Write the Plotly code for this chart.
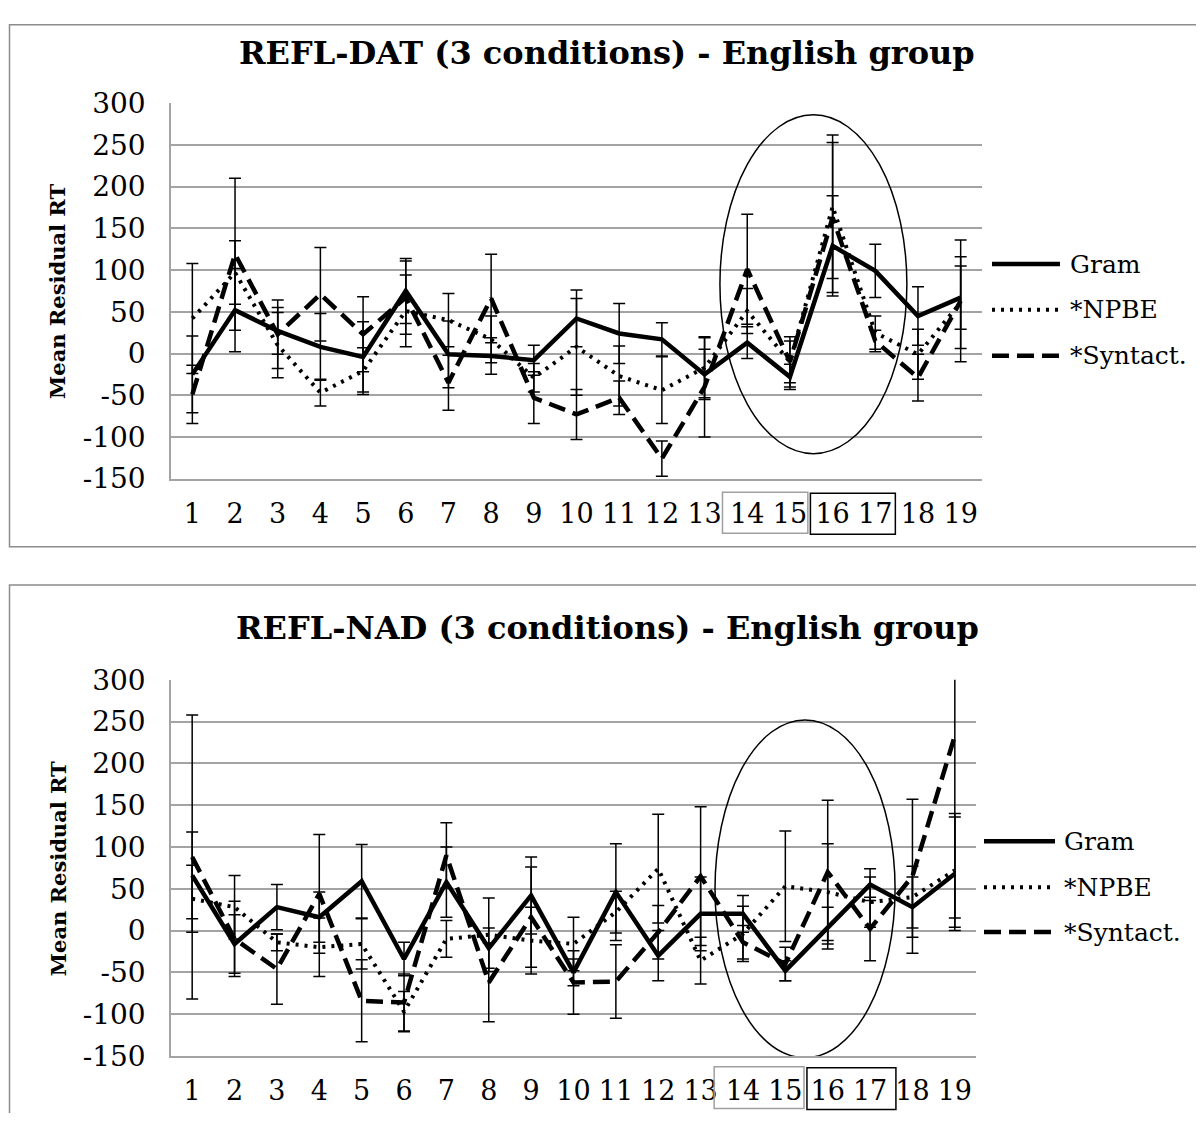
import plotly.graph_objects as go

# figure sits at (8, 8) in the page (default body margin)
OFF = 8
W, H = 1188, 1105
# observed vertical mapping of the rendered page onto the picture: out = VA + VB * page_y
VA, VB = 14.5, 0.973

positions = list(range(1, 20))
tick_labels = [str(i) for i in positions]
y_tickvals = [-150, -100, -50, 0, 50, 100, 150, 200, 250, 300]
y_ticktext = ["-150", "-100", "-50", "0", "50", "100", "150", "200", "250", "300"]
series_names = ["Gram", "*NPBE", "*Syntact."]

# REFL-DAT (top chart)
gram_dat = [-25, 52, 27, 8, -4, 75, -1, -3, -8, 42, 24, 17, -25, 13, -28, 129, 99, 45, 67]
gram_dat_err = [46, 50, 28, 40, 42, 39, 40, 22, 18, 34, 36, 20, 30, 19, 15, 60, 32, 35, 38]
npbe_dat = [42, 97, 10, -47, -21, 51, 40, 17, -29, 8, -27, -44, -17, 51, -10, 176, 25, -1, 61]
npbe_dat_err = [66, 38, 39, 16, 28, 43, 32, 28, 17, 58, 36, 40, 36, 27, 25, 86, 20, 30, 55]
syn_dat = [-49, 119, 23, 71, 23, 67, -35, 66, -53, -73, -53, -126, -40, 101, -10, 163, 15, -29, 63]
syn_dat_err = [35, 91, 41, 56, 45, 44, 33, 53, 31, 30, 20, 21, 60, 66, 30, 90, 13, 28, 73]

# REFL-NAD (bottom chart)
gram_nad = [66, -16, 28, 16, 59, -34, 58, -21, 42, -50, 46, -30, 20, 20, -48, 3, 55, 28, 68]
gram_nad_err = [52, 35, 27, 30, 44, 20, 42, 24, 46, 16, 58, 30, 44, 22, 12, 25, 19, 36, 68]
npbe_nad = [38, 28, -14, -20, -16, -97, -10, -5, -12, -16, 22, 74, -36, -4, 53, 46, 34, 40, 72]
npbe_nad_err = [40, 38, 10, 35, 30, 24, 22, 44, 40, 32, 25, 65, 28, 33, 66, 58, 30, 37, 68]
syn_nad = [88, -10, -46, 44, -84, -86, 90, -62, 16, -62, -61, -2, 65, -14, -40, 70, 2, 65, 233]
syn_nad_err = [170, 45, 42, 71, 49, 34, 39, 47, 60, 38, 44, 32, 83, 20, 20, 86, 38, 92, 218]

titles = ["REFL-DAT (3 conditions) - English group", "REFL-NAD (3 conditions) - English group"]
y_title = "Mean Residual RT"

FONT = "DejaVu Serif"
GRID = "#a3a3a3"
styles = [
    dict(color="black", width=4.5, dash="solid"),
    dict(color="black", width=4, dash="3px,6px"),
    dict(color="black", width=4.5, dash="17px,8px"),
]

def px_x(p):
    return (p - OFF) / W

def px_y(p):
    page = (p - VA) / VB
    return 1 - (page - OFF) / H

fig = go.Figure()

charts = [
    dict(vals=[gram_dat, npbe_dat, syn_dat], errs=[gram_dat_err, npbe_dat_err, syn_dat_err],
         xa="x", ya="y"),
    dict(vals=[gram_nad, npbe_nad, syn_nad], errs=[gram_nad_err, npbe_nad_err, syn_nad_err],
         xa="x2", ya="y2"),
]

for ch in charts:
    for name, v, e, st in zip(series_names, ch["vals"], ch["errs"], styles):
        fig.add_trace(go.Scatter(
            x=positions, y=v, name=name, mode="lines",
            line=st, xaxis=ch["xa"], yaxis=ch["ya"], showlegend=False,
            error_y=dict(type="data", array=e, visible=True, color="black",
                         thickness=1.5, width=6),
        ))

axis_common_x = dict(range=[0.5, 19.5], tickmode="array", tickvals=positions, ticktext=tick_labels,
                     showgrid=False, showline=True, linecolor=GRID, linewidth=1.5,
                     zeroline=False, ticks="", ticklabelstandoff=10,
                     tickfont=dict(family=FONT, size=27, color="black"))
axis_common_y = dict(range=[-150, 300], tickmode="array", tickvals=y_tickvals, ticktext=y_ticktext,
                     showgrid=True, gridcolor=GRID, gridwidth=1.5,
                     showline=True, linecolor=GRID, linewidth=1.5, zeroline=False, ticks="",
                     ticklabelstandoff=18,
                     tickfont=dict(family=FONT, size=28, color="black"))

fig.update_layout(
    width=W, height=H, margin=dict(l=0, r=0, t=0, b=0),
    paper_bgcolor="white", plot_bgcolor="white",
    xaxis=dict(domain=[px_x(171), px_x(982)], anchor="y", **axis_common_x),
    yaxis=dict(domain=[px_y(478.3), px_y(101.7)], anchor="x", **axis_common_y),
    xaxis2=dict(domain=[px_x(171), px_x(976)], anchor="y2", **axis_common_x),
    yaxis2=dict(domain=[px_y(1057.3), px_y(680)], anchor="x2", **axis_common_y),
)

shapes = []
annotations = []

# chart frames
frames = [(min(1.0 - 0.75 / H, px_y(6.5)), px_y(546.7)), (px_y(585), px_y(1140))]
for (top, bot) in frames:
    shapes.append(dict(type="rect", xref="paper", yref="paper", x0=px_x(9.5), x1=px_x(1215),
                       y0=bot, y1=top, line=dict(color="#8c8c8c", width=1.5)))

# titles
for t, yc in zip(titles, [51, 628]):
    annotations.append(dict(text="<b>%s</b>" % t, xref="paper", yref="paper", x=px_x(607), y=px_y(yc),
                            xanchor="center", yanchor="middle", showarrow=False,
                            font=dict(family=FONT, size=32, color="black")))

# y-axis titles
for yc in [291, 870]:
    annotations.append(dict(text="<b>%s</b>" % y_title, xref="paper", yref="paper", x=px_x(58), y=px_y(yc),
                            xanchor="center", yanchor="middle", showarrow=False, textangle=-90,
                            font=dict(family=FONT, size=21, color="black")))

# highlight ellipses (data coords)
ellipses = [("x", "y", 13.36, 17.74, -120, 286), ("x2", "y2", 13.34, 17.59, -152, 252)]
for xr, yr, a0, a1, b0, b1 in ellipses:
    shapes.append(dict(type="circle", xref=xr, yref=yr, x0=a0, x1=a1, y0=b0, y1=b1,
                       line=dict(color="black", width=1.5)))

# boxes around tick labels
boxes = [
    ("x", 13.42, 15.42, 492, 533, "#a0a0a0"),
    ("x", 15.48, 17.47, 493, 534, "black"),
    ("x2", 13.32, 15.44, 1068, 1110, "#a0a0a0"),
    ("x2", 15.51, 17.61, 1069, 1111, "black"),
]
for xr, a0, a1, p0, p1, c in boxes:
    shapes.append(dict(type="rect", xref=xr, yref="paper", x0=a0, x1=a1, y0=px_y(p1), y1=px_y(p0),
                       line=dict(color=c, width=1.5)))

# legends (manual)
legend_specs = [(992, 1060, 1068, [263, 309, 355]), (984, 1055, 1062, [842, 888, 933])]
for lx0, lx1, tx, ys in legend_specs:
    for name, st, yy in zip(series_names, styles, ys):
        shapes.append(dict(type="line", xref="paper", yref="paper", x0=px_x(lx0), x1=px_x(lx1),
                           y0=px_y(yy), y1=px_y(yy),
                           line=dict(color="black", width=st["width"], dash=st["dash"])))
        annotations.append(dict(text=name, xref="paper", yref="paper", x=px_x(tx), y=px_y(yy),
                                xanchor="left", yanchor="middle", showarrow=False,
                                font=dict(family=FONT, size=25, color="black")))

fig.update_layout(shapes=shapes, annotations=annotations)
fig.write_html("out.html")
